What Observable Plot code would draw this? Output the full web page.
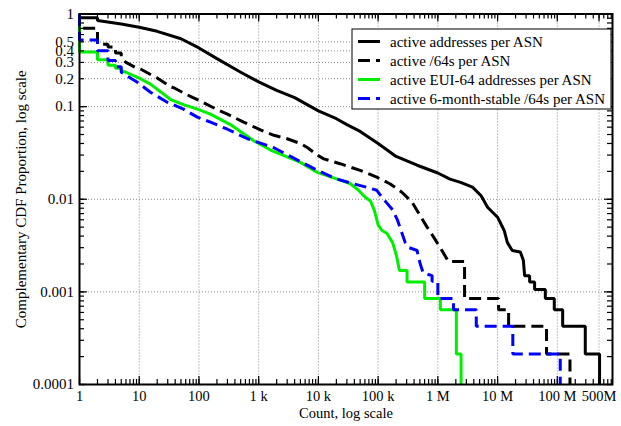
<!DOCTYPE html>
<html><head><meta charset="utf-8">
<script src="https://cdn.jsdelivr.net/npm/d3@7"></script>
<script src="https://cdn.jsdelivr.net/npm/@observablehq/plot@0.6"></script>
<style>
body{margin:0;background:#fff;}
#chart{position:relative;width:621px;height:426px;}
</style>
</head><body><div id="chart"></div>
<script>
// ---- data (count, complementary CDF proportion) ----
const seriesNames = [
  "active addresses per ASN",
  "active /64s per ASN",
  "active EUI-64 addresses per ASN",
  "active 6-month-stable /64s per ASN"
];
const seriesColors = ["#000000", "#000000", "#00ee00", "#0000ff"];
const seriesDashes = [null, "12,6", null, "12,6"];

const addrPerAsn = [
  [1,1],[1,0.91],[2,0.91],[2,0.85],[5,0.78],[10,0.72],[20,0.65],[50,0.54],[100,0.43],
  [200,0.33],[500,0.235],[1000,0.185],[2000,0.15],[4000,0.125],[10000,0.09],[20000,0.074],
  [30000,0.064],[50000,0.054],[100000,0.040],[200000,0.029],[450000,0.0233],[1e6,0.0192],
  [1.6e6,0.0165],[2.4e6,0.0152],[3.8e6,0.0135],[5.3e6,0.0109],[6.8e6,0.0082],[1e7,0.0064],
  [1.29e7,0.0046],[1.46e7,0.0034],[1.76e7,0.0028],[2.4e7,0.0027],[2.7e7,0.0022],
  [2.84e7,0.00149],[3.44e7,0.00149],[3.44e7,0.00128],[4.17e7,0.00128],[4.17e7,0.00106],
  [6.3e7,0.00106],[6.3e7,0.00085],[8.9e7,0.00085],[8.9e7,0.00064],[1.23e8,0.00064],
  [1.23e8,0.000426],[2.94e8,0.000426],[2.94e8,0.000213],[5.1e8,0.000213],[5.1e8,0.0001]
];
const slash64PerAsn = [
  [1,1],[1,0.70],[2,0.70],[2,0.47],[3,0.47],[3,0.44],[4,0.44],[4,0.38],[5,0.38],[5,0.34],
  [6,0.30],[8.6,0.265],[10.5,0.255],[16.5,0.217],[20,0.204],[33,0.165],[40,0.157],[64,0.134],
  [78,0.126],[114,0.112],[188,0.095],[300,0.083],[380,0.077],[560,0.068],[1070,0.056],
  [1470,0.0515],[1800,0.049],[3000,0.045],[5000,0.040],[6600,0.036],[9600,0.030],[12300,0.0273],
  [23000,0.0242],[50000,0.0205],[95000,0.0173],[160000,0.0146],[250000,0.0119],[370000,0.0093],
  [470000,0.0072],[660000,0.0050],[850000,0.0039],[1.17e6,0.0028],[1.5e6,0.00213],
  [2.8e6,0.00213],[2.8e6,0.00085],[1.04e7,0.00085],[1.04e7,0.00064],[1.53e7,0.00064],
  [1.53e7,0.000426],[6.6e7,0.000426],[6.6e7,0.000213],[1.63e8,0.000213],[1.63e8,0.0001]
];
const eui64PerAsn = [
  [1,1],[1,0.39],[2,0.39],[2,0.32],[3,0.32],[3,0.28],[4,0.28],[4,0.26],[5,0.26],[5,0.245],
  [6,0.235],[10.5,0.20],[15.4,0.175],[22.7,0.145],[33,0.12],[55,0.105],[94,0.094],[156,0.083],
  [336,0.064],[816,0.043],[1580,0.034],[3000,0.0286],[5000,0.025],[9600,0.0195],[19000,0.0168],
  [34000,0.0148],[47000,0.0125],[61000,0.0105],[75000,0.0095],[87000,0.0075],[100000,0.0053],
  [116000,0.0046],[140000,0.0043],[175000,0.0034],[205000,0.0024],[227000,0.0017],
  [305000,0.0017],[305000,0.00128],[601000,0.00128],[601000,0.00085],[1.1e6,0.00085],
  [1.1e6,0.00064],[2.04e6,0.00064],[2.04e6,0.000213],[2.45e6,0.000213],[2.45e6,0.0001]
];
const stable64PerAsn = [
  [1,1],[1,0.525],[2,0.525],[2,0.40],[3,0.40],[3,0.315],[4,0.315],[4,0.27],[5,0.27],[5,0.235],
  [9.3,0.183],[15.4,0.143],[29,0.112],[55,0.094],[94,0.077],[156,0.068],[300,0.057],[650,0.045],
  [1800,0.036],[3400,0.029],[9600,0.0205],[19000,0.0168],[34000,0.0150],[61000,0.0136],
  [95000,0.0125],[116000,0.0105],[138000,0.0092],[175000,0.0077],[210000,0.0060],
  [245000,0.0045],[285000,0.0034],[330000,0.0030],[450000,0.0028],[470000,0.0024],
  [520000,0.0019],[570000,0.0016],[800000,0.0015],[800000,0.0013],[1.0e6,0.0013],
  [1.0e6,0.00085],[1.83e6,0.00085],[1.83e6,0.00064],[4.4e6,0.00064],[4.4e6,0.000426],
  [1.8e7,0.000426],[1.8e7,0.000213],[1.12e8,0.000213],[1.12e8,0.0001]
];
const seriesData = [addrPerAsn, slash64PerAsn, eui64PerAsn, stable64PerAsn];

const xTickValues = [1,10,100,1e3,1e4,1e5,1e6,1e7,1e8,5e8];
const xTickLabels = ["1","10","100","1 k","10 k","100 k","1 M","10 M","100 M","500M"];
const yTickValues = [1,0.5,0.4,0.3,0.2,0.1,0.01,0.001,0.0001];
const yTickLabels = ["1","0.5","0.4","0.3","0.2","0.1","0.01","0.001","0.0001"];
const xLabel = "Count, log scale";
const yLabel = "Complementary CDF Proportion, log scale";

// ---- layout ----
const W = 621, H = 426;
const mL = 79, mR = 9, mT = 13.5, mB = 42;
const innerW = W - mL - mR, innerH = H - mT - mB;
const xDomain = [1, 8.4e8], yDomain = [0.0001, 1];
const minorX = d3.scaleLog().domain(xDomain).ticks();
const minorY = d3.scaleLog().domain(yDomain).ticks();
const majorX = minorX.filter(v => Math.abs(Math.log10(v) - Math.round(Math.log10(v))) < 1e-9);
const majorY = minorY.filter(v => Math.abs(Math.log10(v) - Math.round(Math.log10(v))) < 1e-9);
const gridStyle = {stroke: "#888", strokeWidth: 1, strokeDasharray: "1,2"};
const tickStyle = {stroke: "#000", strokeWidth: 1.2};
const serif = "'Liberation Serif', 'Times New Roman', serif";

const lineMarks = seriesData.map((data, i) => Plot.line(data, {
  x: d => d[0], y: d => d[1],
  stroke: seriesColors[i], strokeWidth: 3,
  strokeDasharray: seriesDashes[i] || undefined,
  strokeLinecap: "butt", strokeLinejoin: "miter"
}));

const plot = Plot.plot({
  width: W, height: H,
  marginLeft: mL, marginRight: mR, marginTop: mT, marginBottom: mB,
  style: {fontFamily: serif, background: "#fff"},
  x: {type: "log", domain: xDomain, axis: null},
  y: {type: "log", domain: yDomain, axis: null},
  marks: [
    Plot.ruleX(xTickValues.filter(v => v > 1), gridStyle),
    Plot.ruleY(yTickValues.filter(v => v < 1 && v > 0.0001), gridStyle),
    ...lineMarks,
    // inward ticks, all four sides
    Plot.ruleX(minorX, {...tickStyle, insetTop: innerH - 5}),
    Plot.ruleX(minorX, {...tickStyle, insetBottom: innerH - 5}),
    Plot.ruleX(majorX.concat([5e8]), {...tickStyle, insetTop: innerH - 8}),
    Plot.ruleX(majorX.concat([5e8]), {...tickStyle, insetBottom: innerH - 8}),
    Plot.ruleY(minorY, {...tickStyle, insetRight: innerW - 5}),
    Plot.ruleY(minorY, {...tickStyle, insetLeft: innerW - 5}),
    Plot.ruleY(majorY, {...tickStyle, insetRight: innerW - 8}),
    Plot.ruleY(majorY, {...tickStyle, insetLeft: innerW - 8}),
    Plot.frame({stroke: "#000", strokeWidth: 2}),
    // tick labels
    Plot.text(xTickValues, {x: d => d, text: (d, i) => xTickLabels[i], frameAnchor: "bottom",
      textAnchor: "middle", lineAnchor: "top", dy: 6, fontSize: 14.5, fill: "#000"}),
    Plot.text(yTickValues, {y: d => d, text: (d, i) => yTickLabels[i], frameAnchor: "left",
      textAnchor: "end", lineAnchor: "middle", dx: -5.5, fontSize: 15, fill: "#000"}),
    // axis titles
    Plot.text([xLabel], {text: d => d, frameAnchor: "bottom", textAnchor: "middle",
      lineAnchor: "middle", dy: 29, fontSize: 14.5, fill: "#000"}),
    Plot.text([yLabel], {text: d => d, frameAnchor: "left", textAnchor: "middle",
      lineAnchor: "middle", rotate: -90, dx: -58, fontSize: 15, fill: "#000"})
  ]
});
document.getElementById("chart").appendChild(plot);

// ---- legend (inside the plot area, top right) ----
const svg = d3.select(plot);
const lg = svg.append("g").attr("class", "legend");
const lx = 352, ly = 29, lw = 259, lh = 80;
lg.append("rect").attr("x", lx).attr("y", ly).attr("width", lw).attr("height", lh)
  .attr("fill", "#fff").attr("stroke", "#000").attr("stroke-width", 1);
seriesNames.forEach((name, i) => {
  const yy = ly + 12.5 + 19 * i;
  lg.append("line").attr("x1", lx + 6).attr("x2", lx + 28).attr("y1", yy).attr("y2", yy)
    .attr("stroke", seriesColors[i]).attr("stroke-width", 3)
    .attr("stroke-dasharray", seriesDashes[i] || null);
  lg.append("text").attr("x", lx + 38).attr("y", yy).attr("dy", "0.35em")
    .attr("text-anchor", "start")
    .attr("font-size", 15).attr("fill", "#000")
    .attr("font-family", serif).text(name);
});
</script>
</body></html>
